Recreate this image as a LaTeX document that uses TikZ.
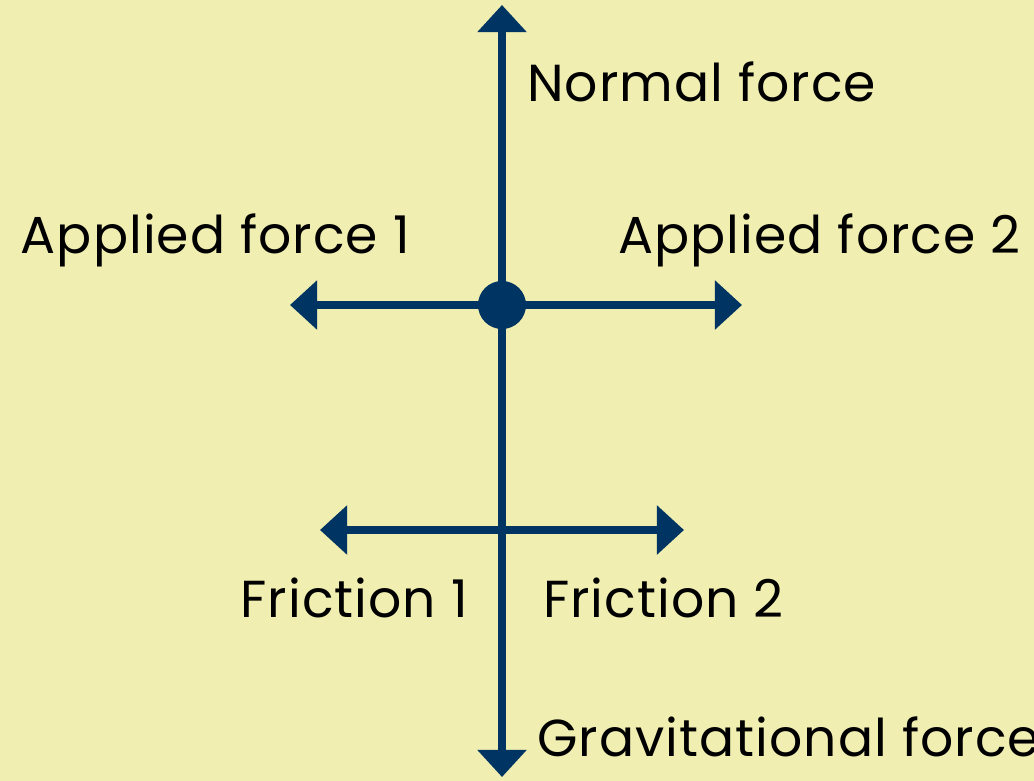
\documentclass[tikz,border=0pt]{standalone}
\usepackage{fontspec}
\setmainfont[LetterSpace=2]{Poppins}
\usepackage{tikz}
\usetikzlibrary{arrows.meta}
\definecolor{cfondo}{HTML}{F0EEB0}
\definecolor{cfuerza}{HTML}{003462}
\tikzset{
  fuerza/.style={-{Triangle[length=0.68cm, width=1.2cm]}, line width=0.2cm, draw=cfuerza},
  punto/.style={circle, fill=cfuerza, inner sep=0pt, minimum size=1.2cm},
  etq/.style={font=\fontsize{37}{42}\selectfont, text=black, inner sep=0pt},
}
\begin{document}
\begin{tikzpicture}[x=0.025cm, y=-0.025cm]
  \fill[cfondo] (0,0) rectangle (1034,781);
  \useasboundingbox (0,0) rectangle (1034,781);
  % puntos de las fuerzas
  \coordinate (cuerpo) at (502,305);
  \coordinate (nor) at (502,5);
  \coordinate (grav) at (502,777);
  \coordinate (ap1) at (290,305);
  \coordinate (ap2) at (742,305);
  \coordinate (cruce) at (502,530);
  \coordinate (fr1) at (320,530);
  \coordinate (fr2) at (684,530);
  \draw[fuerza] (cuerpo)--(nor); \draw[fuerza] (cuerpo)--(grav);
  \draw[fuerza] (cuerpo)--(ap1); \draw[fuerza] (cuerpo)--(ap2);
  \draw[fuerza] (cruce)--(fr1); \draw[fuerza] (cruce)--(fr2);
  \node[punto] (o) at (cuerpo) {};
  % etiquetas
  \node[etq, anchor=west] (lnor) at (527,82) {Normal force};
  \node[etq, anchor=east] (lap1) at (410,240) {Applied force 1};
  \node[etq, anchor=west] (lap2) at (618,240) {Applied force 2};
  \node[etq, anchor=east] (lfr1) at (468,598) {Friction 1};
  \node[etq, anchor=west] (lfr2) at (543,598) {Friction 2};
  \node[etq, anchor=west] (lgrav) at (537,737) {Gravitational force};
\end{tikzpicture}
\end{document}
